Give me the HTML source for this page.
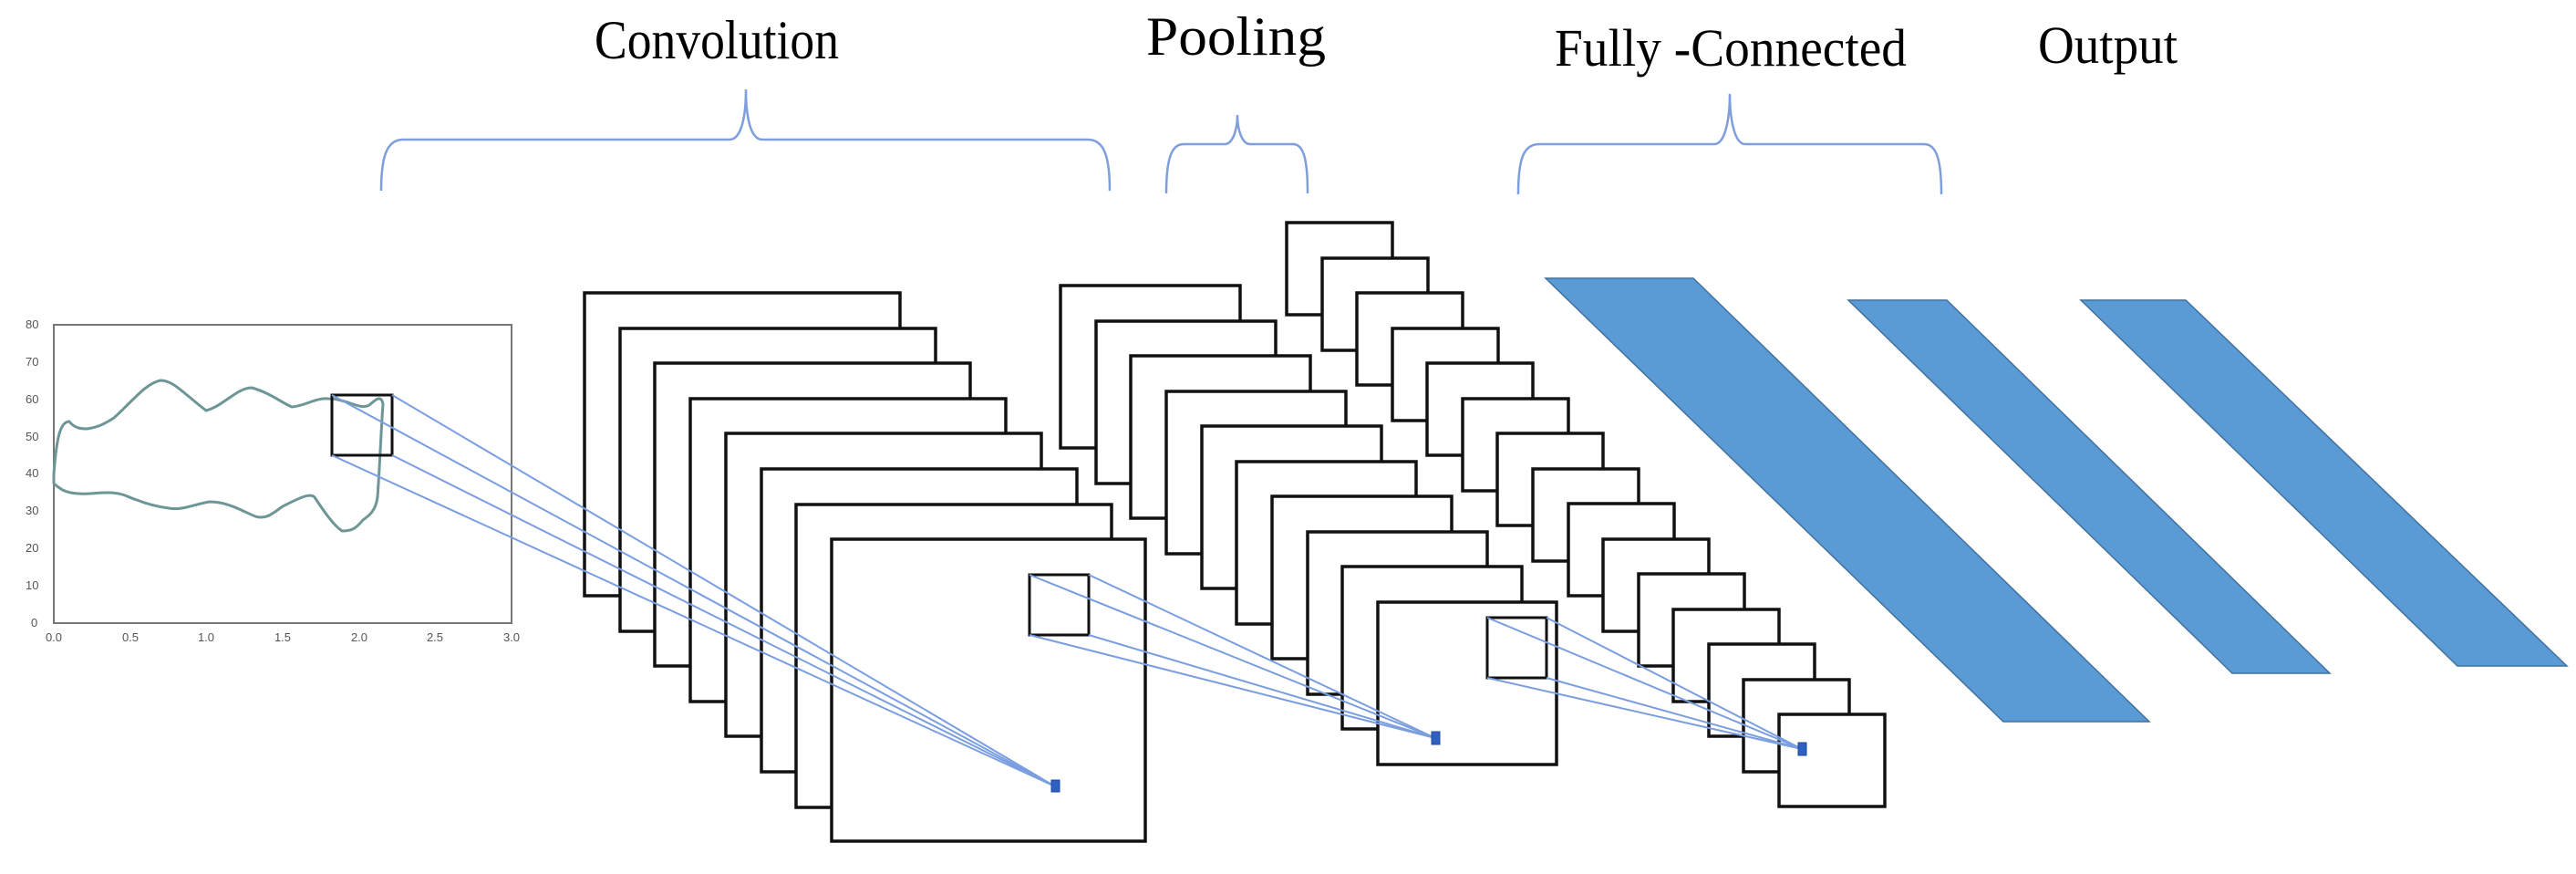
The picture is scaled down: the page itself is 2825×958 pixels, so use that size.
<!DOCTYPE html>
<html><head><meta charset="utf-8"><style>html,body{margin:0;padding:0;background:#fff}svg{display:block}</style></head>
<body>
<svg width="2825" height="958" viewBox="0 0 2825 958" xmlns="http://www.w3.org/2000/svg">
<g font-family="Liberation Serif, serif" fill="#000">
<text x="652" y="64" font-size="60" textLength="268" lengthAdjust="spacingAndGlyphs">Convolution</text>
<text x="1257" y="60" font-size="60" textLength="197" lengthAdjust="spacingAndGlyphs">Pooling</text>
<text x="1705" y="72" font-size="58" textLength="386" lengthAdjust="spacingAndGlyphs">Fully -Connected</text>
<text x="2235" y="69" font-size="58" textLength="153" lengthAdjust="spacingAndGlyphs">Output</text>
</g>
<g fill="none" stroke="#7f9fdc" stroke-width="2.5">
<path d="M418,209 C418,172 424,153 442,153 L800,153 C813,153 818,128 818,98 C818,128 823,153 836,153 L1193,153 C1211,153 1217,172 1217,209"/>
<path d="M1279,212 C1279,176 1284,158 1298,158 L1343,158 C1352,158 1357,142 1357,126 C1357,142 1362,158 1371,158 L1418,158 C1430,158 1434,176 1434,212"/>
<path d="M1665,213 C1665,176 1670,158 1688,158 L1880,158 C1892,158 1897,130 1897,103 C1897,130 1902,158 1914,158 L2110,158 C2124,158 2129,176 2129,213"/>
</g>
<!-- chart -->
<rect x="59" y="356" width="502" height="327" fill="none" stroke="#777" stroke-width="2"/>
<g font-family="Liberation Sans, sans-serif" font-size="13" fill="#555">
<text x="28" y="360">80</text><text x="28" y="401">70</text><text x="28" y="442">60</text><text x="28" y="483">50</text><text x="28" y="523">40</text><text x="28" y="564">30</text><text x="28" y="605">20</text><text x="28" y="646">10</text><text x="34" y="687">0</text>
<g text-anchor="middle"><text x="59" y="703">0.0</text><text x="143" y="703">0.5</text><text x="226" y="703">1.0</text><text x="310" y="703">1.5</text><text x="394" y="703">2.0</text><text x="477" y="703">2.5</text><text x="561" y="703">3.0</text></g>
</g>
<path fill="none" stroke="#6e9696" stroke-width="3" stroke-linejoin="round" d="M59,520 C62,480 66,462 76,462 C82,470 90,470 96,470 C108,468 114,465 125,458 C145,440 160,420 176,417 C190,417 200,430 226,450 C245,445 260,425 276,425 C295,430 310,442 320,446 C335,445 345,436 360,437 C380,437 395,450 405,444 C412,438 418,432 420,443 C418,470 416,520 414,545 C412,560 405,565 398,570 C390,580 385,582 375,582 C365,575 355,560 345,545 C340,540 330,545 310,555 C300,562 292,570 280,566 C265,560 250,550 230,550 C215,552 200,560 185,557 C170,555 160,552 150,548 C140,545 135,540 118,540 C105,540 95,542 85,541 C70,540 65,535 59,530 Z"/>
<rect x="364" y="433" width="66" height="66" fill="none" stroke="#111" stroke-width="3"/>
<!-- conv stack -->
<g fill="#fff" stroke="#111" stroke-width="3.5">
<rect x="641" y="321" width="346" height="332"/>
<rect x="680" y="360" width="346" height="332"/>
<rect x="718" y="398" width="346" height="332"/>
<rect x="757" y="437" width="346" height="332"/>
<rect x="796" y="475" width="346" height="332"/>
<rect x="835" y="514" width="346" height="332"/>
<rect x="873" y="553" width="346" height="332"/>
<rect x="912" y="591" width="344" height="331"/>
</g>
<rect x="1129" y="630" width="65" height="66" fill="none" stroke="#111" stroke-width="3"/>
<!-- pool stack -->
<g fill="#fff" stroke="#111" stroke-width="3.5">
<rect x="1163" y="313" width="197" height="178"/>
<rect x="1202" y="352" width="197" height="178"/>
<rect x="1240" y="390" width="197" height="178"/>
<rect x="1279" y="429" width="197" height="178"/>
<rect x="1318" y="467" width="197" height="178"/>
<rect x="1356" y="506" width="197" height="178"/>
<rect x="1395" y="544" width="197" height="178"/>
<rect x="1434" y="583" width="197" height="178"/>
<rect x="1472" y="621" width="197" height="178"/>
<rect x="1511" y="660" width="196" height="178"/>
</g>
<rect x="1631" y="677" width="65" height="66" fill="none" stroke="#111" stroke-width="3"/>
<!-- third stack -->
<g fill="#fff" stroke="#111" stroke-width="3.5">
<rect x="1411" y="244" width="116" height="101"/>
<rect x="1450" y="283" width="116" height="101"/>
<rect x="1488" y="321" width="116" height="101"/>
<rect x="1527" y="360" width="116" height="101"/>
<rect x="1565" y="398" width="116" height="101"/>
<rect x="1604" y="437" width="116" height="101"/>
<rect x="1642" y="475" width="116" height="101"/>
<rect x="1681" y="514" width="116" height="101"/>
<rect x="1720" y="552" width="116" height="101"/>
<rect x="1758" y="591" width="116" height="101"/>
<rect x="1797" y="629" width="116" height="101"/>
<rect x="1835" y="668" width="116" height="101"/>
<rect x="1874" y="706" width="116" height="101"/>
<rect x="1912" y="745" width="116" height="101"/>
<rect x="1951" y="783" width="116" height="101"/>
</g>
<!-- parallelograms -->
<g fill="#5b9bd5" stroke="#41719c" stroke-width="1.5">
<polygon points="1695,305 1857,305 2357,791 2197,791"/>
<polygon points="2027,329 2135,329 2555,738 2448,738"/>
<polygon points="2282,329 2397,329 2815,730 2695,730"/>
</g>
<!-- connector lines -->
<g stroke="#7a9ee0" stroke-width="2" fill="none">
<line x1="364" y1="433" x2="1157" y2="862"/><line x1="430" y1="433" x2="1157" y2="862"/>
<line x1="364" y1="499" x2="1157" y2="862"/><line x1="430" y1="499" x2="1157" y2="862"/>
<line x1="1129" y1="630" x2="1574" y2="809"/><line x1="1194" y1="630" x2="1574" y2="809"/>
<line x1="1129" y1="696" x2="1574" y2="809"/><line x1="1194" y1="696" x2="1574" y2="809"/>
<line x1="1631" y1="677" x2="1976" y2="821"/><line x1="1696" y1="677" x2="1976" y2="821"/>
<line x1="1631" y1="743" x2="1976" y2="821"/><line x1="1696" y1="743" x2="1976" y2="821"/>
</g>
<g fill="#2f5fc0" stroke="#1f4aa0" stroke-width="1">
<rect x="1153" y="855" width="9" height="13"/>
<rect x="1570" y="802" width="9" height="14"/>
<rect x="1972" y="814" width="9" height="14"/>
</g>
</svg>
</body></html>
